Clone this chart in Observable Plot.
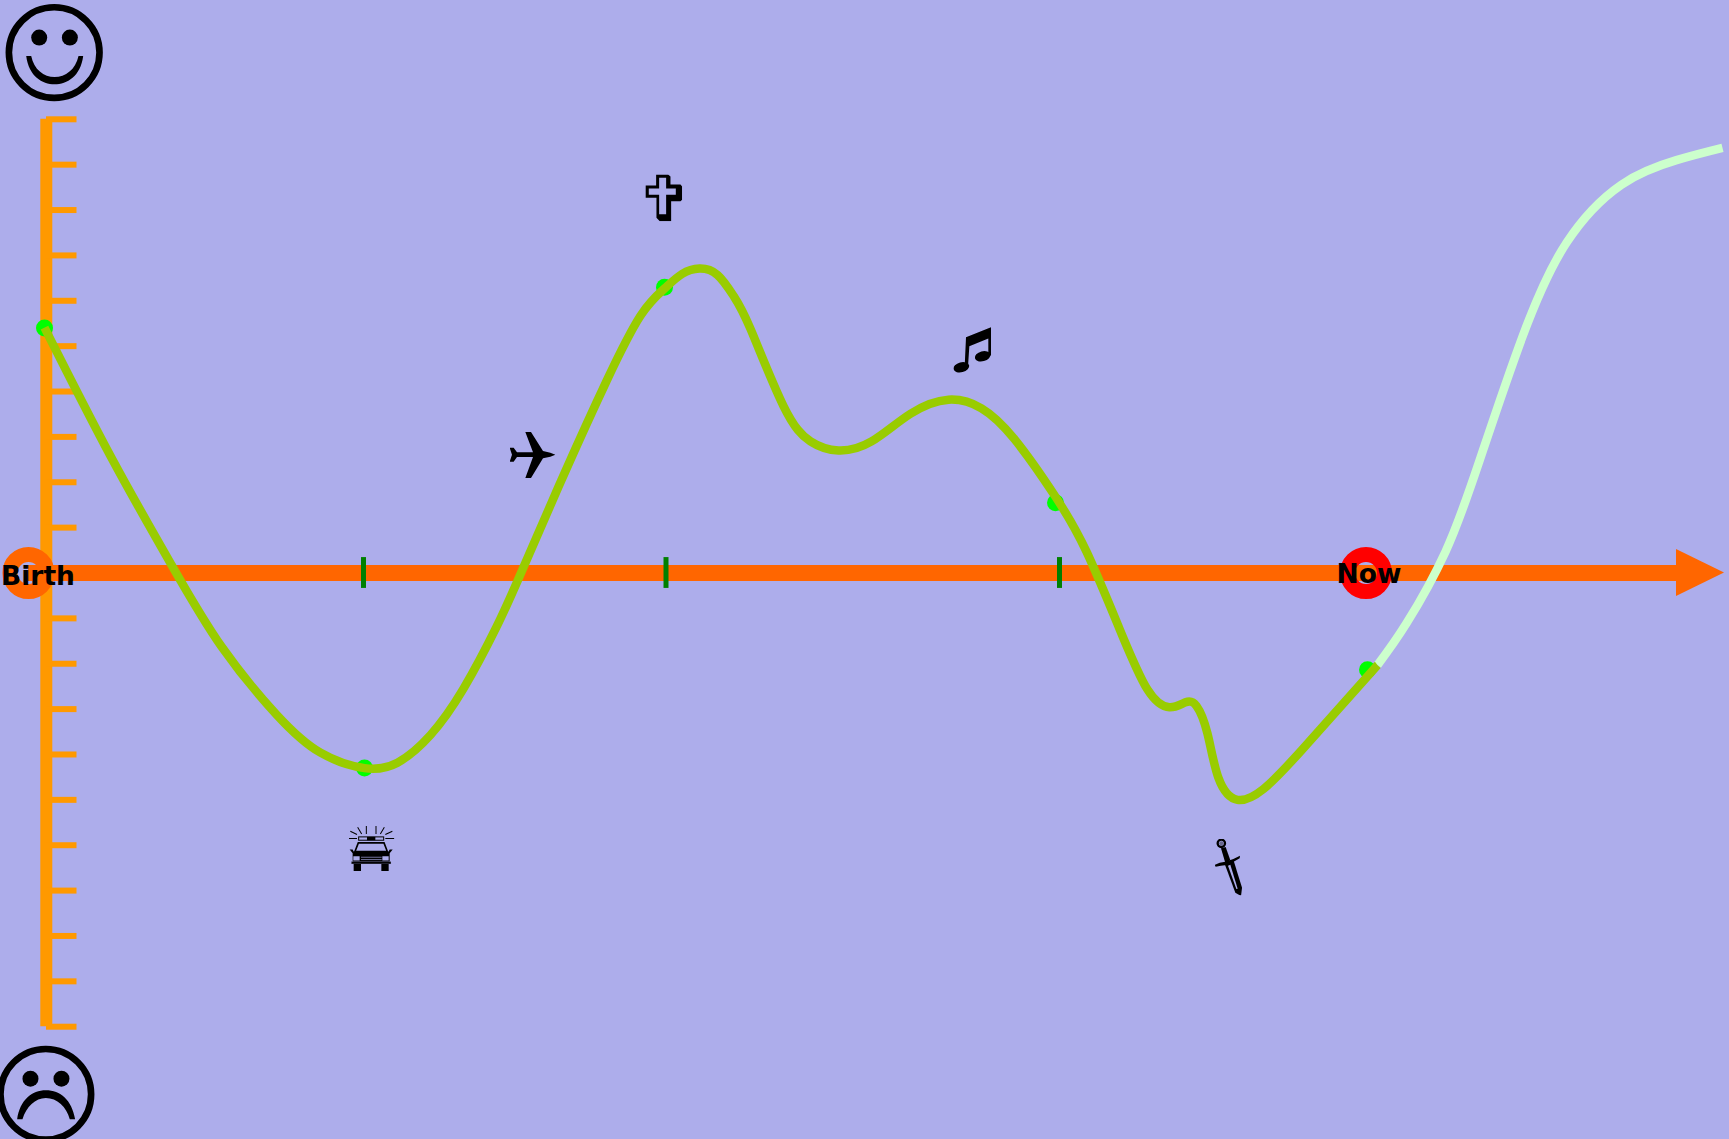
<!DOCTYPE html>
<html>
<head>
<meta charset="utf-8">
<style>html,body{margin:0;padding:0;background:#adadeb;overflow:hidden}svg{display:block}</style>
<script src="https://cdn.jsdelivr.net/npm/d3@7"></script>
<script src="https://cdn.jsdelivr.net/npm/@observablehq/plot@0.6"></script>
</head>
<body>
<script>
// time runs on x, mood on y (-10 sad .. +10 happy)
const moodTicks = d3.range(-10, 11);
const pastTime = [44,110,171,221,276,320,364,397,430,463,496,520.5,562,606,640,664,681.5,699,717,733,750,783,810,838,871,910,948,981,1014,1055,1086,1119,1147,1169,1185,1196,1207,1218,1237,1263,1301,1377];
const pastMood = [5.41,2.58,0.18,-1.62,-3.12,-3.96,-4.30,-4.18,-3.57,-2.55,-1.19,0,2.10,4.23,5.67,6.27,6.59,6.71,6.57,6.11,5.38,3.68,2.90,2.70,2.90,3.51,3.82,3.63,2.95,1.68,0.47,-1.23,-2.57,-2.96,-2.85,-2.93,-3.54,-4.52,-5.00,-4.76,-3.91,-2.03];
const futureTime = [1377,1406,1445,1478,1522,1566,1621,1676,1722];
const futureMood = [-2.03,-1.11,0.47,2.41,5.21,7.28,8.56,9.10,9.37];
const eventTime = [44,364,664,1055,1367];
const eventMood = [5.40,-4.30,6.30,1.55,-2.13];
const tickTime = [363,665.5,1059];
const ringTime = [28,1365.5];
const ringColor = ["#ff6600","#ff0000"];
const labels = ["Birth","Now"];
const labelTime = [37.5,1368.5];
const labelMood = [-0.07,-0.04];
const arrowTime = [1676,1724];
const arrowHalf = [0.518,0];

const BG = "#adadeb";
const svg = (vb, body) => "data:image/svg+xml;base64," + btoa(`<svg xmlns="http://www.w3.org/2000/svg" viewBox="${vb}">${body}</svg>`);
const smile = svg("12 8 298 298", `<circle cx="161" cy="157" r="136" fill="none" stroke="#000" stroke-width="20"/><circle cx="116" cy="112" r="24"/><circle cx="208" cy="112" r="24"/><path d="M77 167C85 228 125 252 162 252C200 252 240 228 248 167L234 167C225 208 195 230 162 230C130 230 100 208 92 167Z"/>`);
const frown = svg("-13 132 298 298", `<circle cx="136" cy="281" r="136" fill="none" stroke="#000" stroke-width="20"/><circle cx="90" cy="234" r="24"/><circle cx="183" cy="234" r="24"/><path d="M50 356C58 298 95 269 136 269C180 269 214 298 224 356L208 356C198 318 170 292 136 292C105 292 77 318 66 356Z"/>`);
const cross = svg("45 42 110 140", `<path d="M77 42H113L120 48V72H150L155 78V118L150 122H122V182H88L78 172V112H45V75H77Z"/><path d="M86 52H107V84H136V103H107V161H86V103H55V84H86Z" fill="${BG}"/>`);
const note = svg("68 48 115 139", `<path d="M102 168L106 80L181 50V135H173V84L116 107L112 168Z"/><ellipse cx="92" cy="170" rx="24" ry="15" transform="rotate(-15 92 170)"/><ellipse cx="156" cy="137" rx="24" ry="15" transform="rotate(-15 156 137)"/>`);
const plane = svg("58 65 137 138", `<path d="M58 112H70L80 126H128L105 65H122L158 122L180 127L195 133L180 139L158 144L122 203H105L128 140H80L70 154H58L65 133Z"/>`);
const car = svg("85 75 137 137", `<g stroke="#000" stroke-width="3" fill="none"><path d="M90 92L110 102M112 80L124 100M138 76L138 100M167 76L167 100M192 80L180 100M216 92L195 102M85 114L110 114M195 114L222 114"/><rect x="115" y="109" width="75" height="10"/></g><rect x="140" y="109" width="25" height="10"/>
<path d="M104 153L114 127H191L201 153Z" fill="${BG}" stroke="#000" stroke-width="5"/>
<path d="M88 147L97 147L100 153L205 153L208 147L217 147L208 158L208 184L97 184L97 158Z"/>
<path d="M93 183H212V190H93Z" stroke="${BG}" stroke-width="1"/><path d="M100 190H122V211H100ZM183 190H205V211H183Z"/>
<path d="M99 167H118V180H99ZM186 167H205V180H186Z" fill="${BG}"/><path d="M122 170H184M122 177H184" stroke="${BG}" stroke-width="2"/>`);
const dagger = svg("72 55 83 170", `<circle cx="92" cy="69" r="11" fill="${BG}" stroke="#000" stroke-width="7"/><circle cx="92" cy="69" r="6" fill-opacity=".4"/><path d="M91 84L105 80L119 120L104 128Z"/><path d="M72 134Q85 126 104 124Q125 119 148 106L147 114Q125 128 108 134Q90 136 75 139Z"/><path d="M103 133L129 121L154 202L151 227L134 217Z"/><path d="M112 136L119 133L141 205L137 206Z" fill="${BG}"/>`);
const icons = [smile, frown, cross, note, plane, car, dagger];
const iconTime = [53.7,45.3,663.3,972,532,371,1228];
const iconMood = [11.47,-11.49,8.27,4.92,2.60,-6.07,-6.48];
const iconW = [99.3,99.3,36.7,38.3,45.7,45.7,27.7];
const iconH = [99.3,99.3,46.7,46.3,46,45.7,56.7];

const I = d3.range;
const plot = Plot.plot({
  width: 1729, height: 1139,
  margin: 0, marginTop: 0, marginRight: 0, marginBottom: 0, marginLeft: 0,
  style: {background: BG, overflow: "hidden"},
  x: {domain: [0, 1729], range: [0, 1729], axis: null},
  y: {domain: [-10, 10], range: [1026.2, 118.8], axis: null},
  marks: [
    Plot.ruleX([45.8], {y1: -10, y2: 10, stroke: "#ff9900", strokeWidth: 12}),
    Plot.ruleY(moodTicks, {x1: 46, x2: 76.5, stroke: "#ff9900", strokeWidth: 6}),
    Plot.ruleY([0], {x1: 28, x2: 1680, stroke: "#ff6600", strokeWidth: 16}),
    Plot.areaY(arrowTime, {x: d => d, y1: (d, i) => -arrowHalf[i], y2: (d, i) => arrowHalf[i], fill: "#ff6600"}),
    Plot.dot(I(ringTime.length), {x: i => ringTime[i], y: () => 0, r: 18.5, fill: "none", stroke: i => ringColor[i], strokeWidth: 15}),
    Plot.ruleX(tickTime, {y1: -0.34, y2: 0.34, stroke: "#008000", strokeWidth: 5}),
    Plot.dot(I(eventTime.length), {x: i => eventTime[i], y: i => eventMood[i], r: 8.5, fill: "#00ff00"}),
    Plot.line(I(futureTime.length), {x: i => futureTime[i], y: i => futureMood[i], stroke: "#ccffcc", strokeWidth: 8.5, curve: "natural", strokeLinecap: "butt"}),
    Plot.line(I(pastTime.length), {x: i => pastTime[i], y: i => pastMood[i], stroke: "#99cc00", strokeWidth: 8.5, curve: "natural", strokeLinecap: "butt"}),
    Plot.image(I(icons.length), {x: i => iconTime[i], y: i => iconMood[i], src: i => icons[i], width: i => iconW[i], height: i => iconH[i], preserveAspectRatio: "none"}),
    Plot.text(I(labels.length), {x: i => labelTime[i], y: i => labelMood[i], text: i => labels[i], fontSize: 26.5, fontWeight: "bold", fontFamily: "DejaVu Sans", fill: "#000", textAnchor: "middle", lineAnchor: "middle"})
  ]
});
document.body.appendChild(plot);
</script>
</body>
</html>
